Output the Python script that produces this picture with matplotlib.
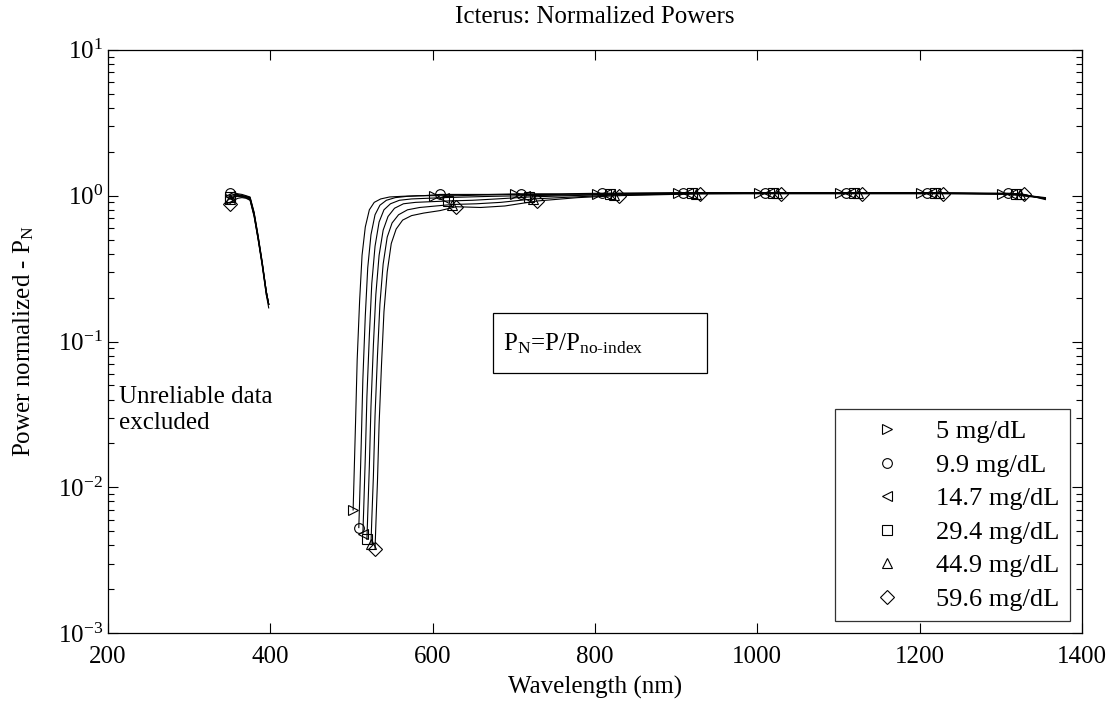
import matplotlib
matplotlib.use("Agg")
import matplotlib.pyplot as plt
import numpy as np
from matplotlib.lines import Line2D
from matplotlib.patches import Rectangle
from matplotlib.ticker import LogLocator, NullFormatter


plt.rcParams["font.family"] = ["Liberation Serif", "DejaVu Serif"]
plt.rcParams["mathtext.fontset"] = "custom"
plt.rcParams["mathtext.rm"] = "Liberation Serif"
plt.rcParams["mathtext.it"] = "Liberation Serif:italic"
plt.rcParams["mathtext.bf"] = "Liberation Serif:bold"

FS = 18

LABELS = ["5 mg/dL", "9.9 mg/dL", "14.7 mg/dL", "29.4 mg/dL", "44.9 mg/dL", "59.6 mg/dL"]
MARKERS = [">", "o", "<", "s", "^", "D"]

# short-wavelength part (before the excluded band)
WL_LEFT = [350, 355, 360, 365, 370, 375, 380, 385, 390, 395, 398]
PN_LEFT = [
    [0.95, 0.98, 1.00, 1.00, 0.99, 0.97, 0.76, 0.52, 0.35, 0.22, 0.18],
    [1.05, 1.05, 1.03, 1.02, 1.00, 0.98, 0.77, 0.53, 0.35, 0.22, 0.18],
    [1.00, 1.02, 1.02, 1.00, 0.99, 0.96, 0.75, 0.52, 0.34, 0.22, 0.18],
    [0.98, 1.00, 1.00, 0.99, 0.98, 0.95, 0.74, 0.51, 0.34, 0.22, 0.18],
    [0.95, 0.98, 0.99, 0.98, 0.97, 0.94, 0.73, 0.50, 0.34, 0.21, 0.18],
    [0.88, 0.93, 0.96, 0.97, 0.96, 0.93, 0.72, 0.50, 0.33, 0.21, 0.17],
]

# long-wavelength part: each curve starts at its own edge wavelength
EDGE_START = [502, 509, 514, 519, 524, 529]
EDGE_OFFSET = [0, 1, 3, 5, 8, 11, 15, 20, 26, 34, 45, 60, 80, 100,
               130, 160, 200, 250, 300, 400, 500, 600, 700, 800]
END_WL = 1355
PN_RIGHT = [
    [0.0070, 0.011, 0.028, 0.075, 0.19, 0.39, 0.61, 0.80, 0.90, 0.95, 0.98, 0.99,
     1.00, 1.00, 1.00, 1.01, 1.02, 1.02, 1.03, 1.04, 1.04, 1.04, 1.04, 1.03],
    [0.0053, 0.008, 0.020, 0.055, 0.15, 0.32, 0.54, 0.74, 0.86, 0.93, 0.97, 0.99,
     1.00, 1.02, 1.02, 1.02, 1.03, 1.03, 1.04, 1.05, 1.05, 1.05, 1.05, 1.04],
    [0.0048, 0.007, 0.016, 0.042, 0.11, 0.25, 0.45, 0.66, 0.80, 0.88, 0.93, 0.95,
     0.96, 0.97, 0.98, 0.99, 1.00, 1.01, 1.02, 1.04, 1.04, 1.04, 1.04, 1.03],
    [0.0044, 0.0065, 0.014, 0.036, 0.095, 0.21, 0.39, 0.58, 0.72, 0.82, 0.88, 0.90,
     0.91, 0.92, 0.93, 0.95, 0.98, 1.00, 1.02, 1.04, 1.04, 1.04, 1.04, 1.03],
    [0.0041, 0.006, 0.012, 0.031, 0.080, 0.18, 0.34, 0.52, 0.65, 0.74, 0.80, 0.83,
     0.85, 0.87, 0.88, 0.90, 0.95, 0.98, 1.01, 1.03, 1.04, 1.04, 1.04, 1.03],
    [0.0038, 0.0055, 0.011, 0.027, 0.070, 0.16, 0.30, 0.47, 0.59, 0.68, 0.73, 0.76,
     0.79, 0.84, 0.83, 0.85, 0.92, 0.97, 1.00, 1.03, 1.03, 1.03, 1.03, 1.02],
]
PN_END = [0.96, 0.97, 0.96, 0.96, 0.95, 0.94]


fig = plt.figure(figsize=(11.09, 7.02), dpi=100)
ax = fig.add_axes([0.0974, 0.098, 0.8782, 0.831])

mark_idx = [i for i, d in enumerate(EDGE_OFFSET) if d % 100 == 0]

for k in range(len(LABELS)):
    ax.plot(WL_LEFT, PN_LEFT[k], color="k", lw=0.8, marker=MARKERS[k],
            markevery=[0], ms=7, mfc="none", mec="k", mew=0.8)
    wl = [EDGE_START[k] + d for d in EDGE_OFFSET] + [END_WL]
    pn = PN_RIGHT[k] + [PN_END[k]]
    ax.plot(wl, pn, color="k", lw=0.8, marker=MARKERS[k],
            markevery=mark_idx, ms=7, mfc="none", mec="k", mew=0.8)

ax.set_yscale("log")
ax.set_xlim(200, 1400)
ax.set_ylim(1e-3, 1e1)
ax.set_xticks([200, 400, 600, 800, 1000, 1200, 1400])
ax.yaxis.set_major_locator(LogLocator(base=10, numticks=10))
ax.yaxis.set_minor_locator(LogLocator(base=10, subs=np.arange(2, 10), numticks=10))
ax.yaxis.set_minor_formatter(NullFormatter())
ax.tick_params(which="both", direction="in", top=True, right=True, labelsize=FS)
ax.tick_params(which="major", length=7, width=0.8)
ax.tick_params(which="minor", length=4, width=0.8)
ax.tick_params(axis="x", pad=9)
for sp in ax.spines.values():
    sp.set_linewidth(0.9)

ax.set_xlabel("Wavelength (nm)", fontsize=FS, labelpad=6)
ax.set_ylabel(r"Power normalized - P$_\mathregular{N}$", fontsize=FS, labelpad=16)
ax.set_title("Icterus: Normalized Powers", fontsize=FS, pad=19)

ax.text(213, 0.034, "Unreliable data\nexcluded", fontsize=FS, ha="left",
        va="center", linespacing=1.25)

ax.add_patch(Rectangle((0.395, 0.446), 0.22, 0.103, transform=ax.transAxes,
                       fill=False, ec="k", lw=0.9))
ax.text(0.406, 0.497, r"P$_\mathregular{N}$=P/P$_\mathregular{no\text{-}index}$",
        transform=ax.transAxes, fontsize=FS, ha="left", va="center")

handles = [Line2D([], [], ls="none", marker=m, ms=7, mfc="none", mec="k", mew=0.8)
           for m in MARKERS]
leg = ax.legend(handles, LABELS, loc="lower right", fontsize=19, frameon=True,
                fancybox=False, borderpad=0.4, borderaxespad=0.45,
                handlelength=3.2, handletextpad=0.25, labelspacing=0.38)
leg.get_frame().set_edgecolor("k")
leg.get_frame().set_linewidth(0.9)

fig.savefig("out.png", dpi=100)
